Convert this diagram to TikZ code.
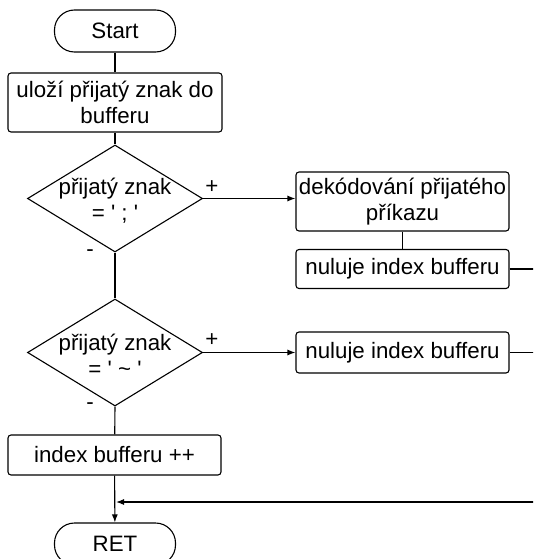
\documentclass[tikz,border=0pt]{standalone}
\usepackage{fontspec}
\setmainfont{Liberation Sans}
\usetikzlibrary{shapes.geometric,arrows.meta}
\begin{document}
\begin{tikzpicture}[x=1pt,y=-1pt,
  every node/.style={font=\fontsize{22.3}{26}\selectfont},
  line/.style={line width=1.1pt},
  box/.style={draw, line, rounded corners=3pt, inner sep=0pt, align=center, minimum width=213pt},
  term/.style={draw, line, rounded corners=20pt, inner sep=0pt, minimum width=121pt, minimum height=42pt},
  dia/.style={draw, line, diamond, inner sep=0pt, minimum width=175pt, minimum height=107pt},
  arr/.style={line, -{Latex[length=8pt,width=6pt]}},
  sign/.style={inner sep=0pt}
]
\useasboundingbox (0,0) rectangle (533,559);
\clip (0,0) rectangle (533,559);

% main column
\node[term] (start) at (115,31) {Start};
\node[box, minimum width=214pt, minimum height=59pt] (save) at (115,102.5) {uloží přijatý znak do\\bufferu};
\node[dia] (q1) at (115,198.5) {};
\node[align=center, inner sep=0pt] (q1t) at (115,201) {přijatý znak\\= \textquotesingle\ ; \textquotesingle};
\node[dia] (q2) at (115,352.5) {};
\node[align=center, inner sep=0pt] (q2t) at (115,355) {přijatý znak\\= \textquotesingle\ \textasciitilde\ \textquotesingle};
\node[box, minimum height=40pt] (inc) at (114.5,455) {index bufferu ++};
\node[term] (ret) at (115,544) {RET};

% right column
\node[box, minimum height=59pt] (decode) at (402.5,201.5) {dekódování přijatého\\příkazu};
\node[box, minimum height=39pt] (reset1) at (402.5,269) {nuluje index bufferu};
\node[box, minimum height=41pt] (reset2) at (402.5,352.5) {nuluje index bufferu};

% branch labels
\node[sign] (p1) at (212,187) {+};
\node[sign] (m1) at (90,253) {-};
\node[sign] (p2) at (212,340) {+};
\node[sign] (m2) at (90,406) {-};

% return path coordinates
\coordinate (e1) at (545,269);
\coordinate (e2) at (545,352.5);
\coordinate (e3) at (545,502);
\coordinate (join) at (116,502);

% connectors
\draw[line] (start) -- (save);
\draw[line] (save) -- (q1.north);
\draw[arr] (q1.east) -- (q1.east -| decode.west);
\draw[line] (decode) -- (reset1);
\draw[line] (reset1.east) -- (e1);
\draw[line] (q1.south) -- (q2.north);
\draw[arr] (q2.east) -- (reset2.west);
\draw[line] (reset2.east) -- (e2);
\draw[line] (q2.south) -- (inc);
\draw[arr] (inc) -- (ret);
\draw[arr] (e3) -- (join);
\end{tikzpicture}
\end{document}
